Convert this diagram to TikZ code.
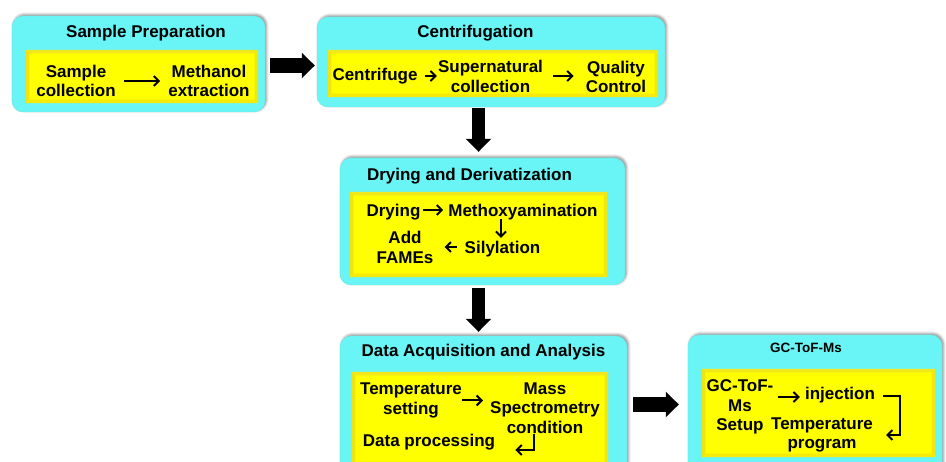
\documentclass[tikz,border=0pt]{standalone}
\usepackage{fontspec}
\setmainfont{Liberation Sans}
\usetikzlibrary{arrows.meta,calc,shadows.blur}
\definecolor{stagecyan}{RGB}{105,245,245}
\definecolor{stepyellow}{RGB}{255,255,0}

% bevelled edge of a yellow panel
\newcommand\bevelpanel[1]{%
  \fill[yellow!88!gray] (#1.north west) -- (#1.north east) -- ($(#1.north east)+(-3.5,3.5)$) -- ($(#1.north west)+(3.5,3.5)$) -- cycle;
  \fill[yellow!93!black] (#1.north west) -- ($(#1.north west)+(3.5,3.5)$) -- ($(#1.south west)+(3.5,-3.5)$) -- (#1.south west) -- cycle;
  \fill[yellow!94!black] (#1.north east) -- ($(#1.north east)+(-3.5,3.5)$) -- ($(#1.south east)+(-3.5,-3.5)$) -- (#1.south east) -- cycle;
  \fill[yellow!96!black] (#1.south west) -- ($(#1.south west)+(3.5,-3.5)$) -- ($(#1.south east)+(-3.5,-3.5)$) -- (#1.south east) -- cycle;
}

\begin{document}
\begin{tikzpicture}[x=1pt,y=-1pt,
  stage/.style={fill=stagecyan, rounded corners=11pt, inner sep=0pt,
    draw=stagecyan!85!gray, line width=0.4pt,
    blur shadow={shadow xshift=1.5pt, shadow yshift=1.5pt, shadow blur radius=2.5pt, shadow opacity=45}},
  panel/.style={fill=stepyellow, inner sep=0pt},
  title/.style={font=\fontsize{17}{19}\selectfont\bfseries, inner sep=0pt},
  smalltitle/.style={font=\fontsize{13.5}{15}\selectfont\bfseries, inner sep=0pt},
  lbl/.style={font=\fontsize{17}{19.5}\selectfont\bfseries, align=center, inner sep=0pt},
  flow/.style={line width=2pt, -{Straight Barb[length=5pt,width=10pt]}},
  bigarrow/.style={line width=15pt, -{Triangle[length=13pt,width=25pt]}},
]
\clip (0,0) rectangle (946,462);

% ---- stage boxes ----
\node[stage, minimum width=253pt, minimum height=96pt]  (prep) at (138.5,64)  {};
\node[stage, minimum width=348pt, minimum height=90pt]  (cent) at (491,62)    {};
\node[stage, minimum width=285pt, minimum height=127pt] (dry)  at (482.5,221.5) {};
\node[stage, minimum width=287pt, minimum height=139pt] (acq)  at (483.5,405.5) {};
\node[stage, minimum width=254pt, minimum height=140pt] (gc)   at (815,405)   {};

% ---- yellow panels ----
\node[panel, minimum width=232pt, minimum height=53pt] (prepIn) at (142,76.5)  {};
\node[panel, minimum width=330pt, minimum height=47pt] (centIn) at (493,73.5)  {};
\node[panel, minimum width=257pt, minimum height=85pt] (dryIn)  at (478.5,234.5) {};
\node[panel, minimum width=256pt, minimum height=93pt] (acqIn)  at (480,418.5) {};
\node[panel, minimum width=233pt, minimum height=88pt] (gcIn)   at (818.5,413) {};
\bevelpanel{prepIn}
\bevelpanel{centIn}
\bevelpanel{dryIn}
\bevelpanel{acqIn}
\bevelpanel{gcIn}

% ---- titles ----
\node[title] (t1) at (146,33)    {Sample Preparation};
\node[title] (t2) at (475.5,33)  {Centrifugation};
\node[title] (t3) at (469.5,176) {Drying and Derivatization};
\node[title] (t4) at (483.5,352) {Data Acquisition and Analysis};
\node[smalltitle] (t5) at (806,348) {GC-ToF-Ms};

% ---- sample preparation ----
\node[lbl] (s1) at (76,81)  {Sample\\collection};
\node[lbl] (s2) at (209,81) {Methanol\\extraction};
\draw[flow, shorten <=8pt, shorten >=8pt] (s1.east) -- (s1.east -| s2.west);

% ---- centrifugation ----
\node[lbl] (c1) at (375,76)    {Centrifuge};
\node[lbl] (c2) at (490.5,76.5) {Supernatural\\collection};
\node[lbl] (c3) at (616,77)    {Quality\\Control};
\draw[flow, shorten <=7pt, shorten >=1pt] (c1.east) -- (c1.east -| c2.west);
\coordinate (c2r) at (c2.east |- c1.east);
\draw[flow, shorten <=10pt, shorten >=12pt] (c2r) -- (c2r -| c3.west);

% ---- drying and derivatization ----
\node[lbl] (d1) at (393.5,212) {Drying};
\node[lbl] (d2) at (523,212)   {Methoxyamination};
\node[lbl] (d3) at (502.5,249) {Silylation};
\node[lbl] (d4) at (405,247.5) {Add\\FAMEs};
\coordinate (d1r) at ([yshift=2pt]d1.east);
\draw[flow, shorten <=2pt, shorten >=5pt] (d1r) -- (d1r -| d2.west);
\coordinate (d2b) at (d2.south -| 501,0);
\draw[flow, shorten <=-1pt, shorten >=3pt] (d2b) -- (d2b |- d3.north);
\coordinate (d3l) at ([yshift=2pt]d3.west);
\draw[flow, shorten <=8pt, shorten >=11pt] (d3l) -- (d3l -| d4.east);

% ---- data acquisition and analysis ----
\node[lbl] (e1) at (411,400.5) {Temperature\\setting};
\node[lbl] (e2) at (545,408)   {Mass\\Spectrometry\\condition};
\node[lbl] (e3) at (429,442)   {Data processing};
\draw[flow, shorten >=7pt] (e1.east) -- (e1.east -| e2.west);
\draw[flow] ([xshift=-11pt]e2.south) |- ([xshift=20pt,yshift=-8pt]e3.east);

% ---- GC-ToF-Ms ----
\node[lbl] (f1) at (740,407) {GC-ToF-\\Ms\\Setup};
\node[lbl] (f2) at (840,395) {injection};
\node[lbl] (f3) at (822,435) {Temperature\\program};
\coordinate (f1r) at ([xshift=4pt,yshift=10pt]f1.east);
\draw[flow, shorten >=5pt] (f1r) -- (f1r -| f2.west);
\draw[flow, line join=miter] ([xshift=8pt,yshift=-1pt]f2.east) -- ++(17,0) |- ([xshift=13pt]f3.east);

% ---- block arrows between stages ----
\coordinate (a1) at ([xshift=5pt,yshift=-1.5pt]prep.east);
\draw[bigarrow, shorten >=2pt] (a1) -- (a1 -| cent.west);
\coordinate (a2) at ([xshift=-12.5pt,yshift=-1pt]cent.south);
\draw[bigarrow, line width=13pt, shorten >=6pt] (a2) -- (a2 |- dry.north);
\coordinate (a3) at ([yshift=-3pt]dry.south -| a2);
\draw[bigarrow, line width=13pt, shorten >=4pt] (a3) -- (a3 |- acq.north);
\coordinate (a4) at ([xshift=6pt,yshift=1pt]acq.east);
\draw[bigarrow, shorten >=9pt] (a4) -- (a4 -| gc.west);
\end{tikzpicture}
\end{document}
